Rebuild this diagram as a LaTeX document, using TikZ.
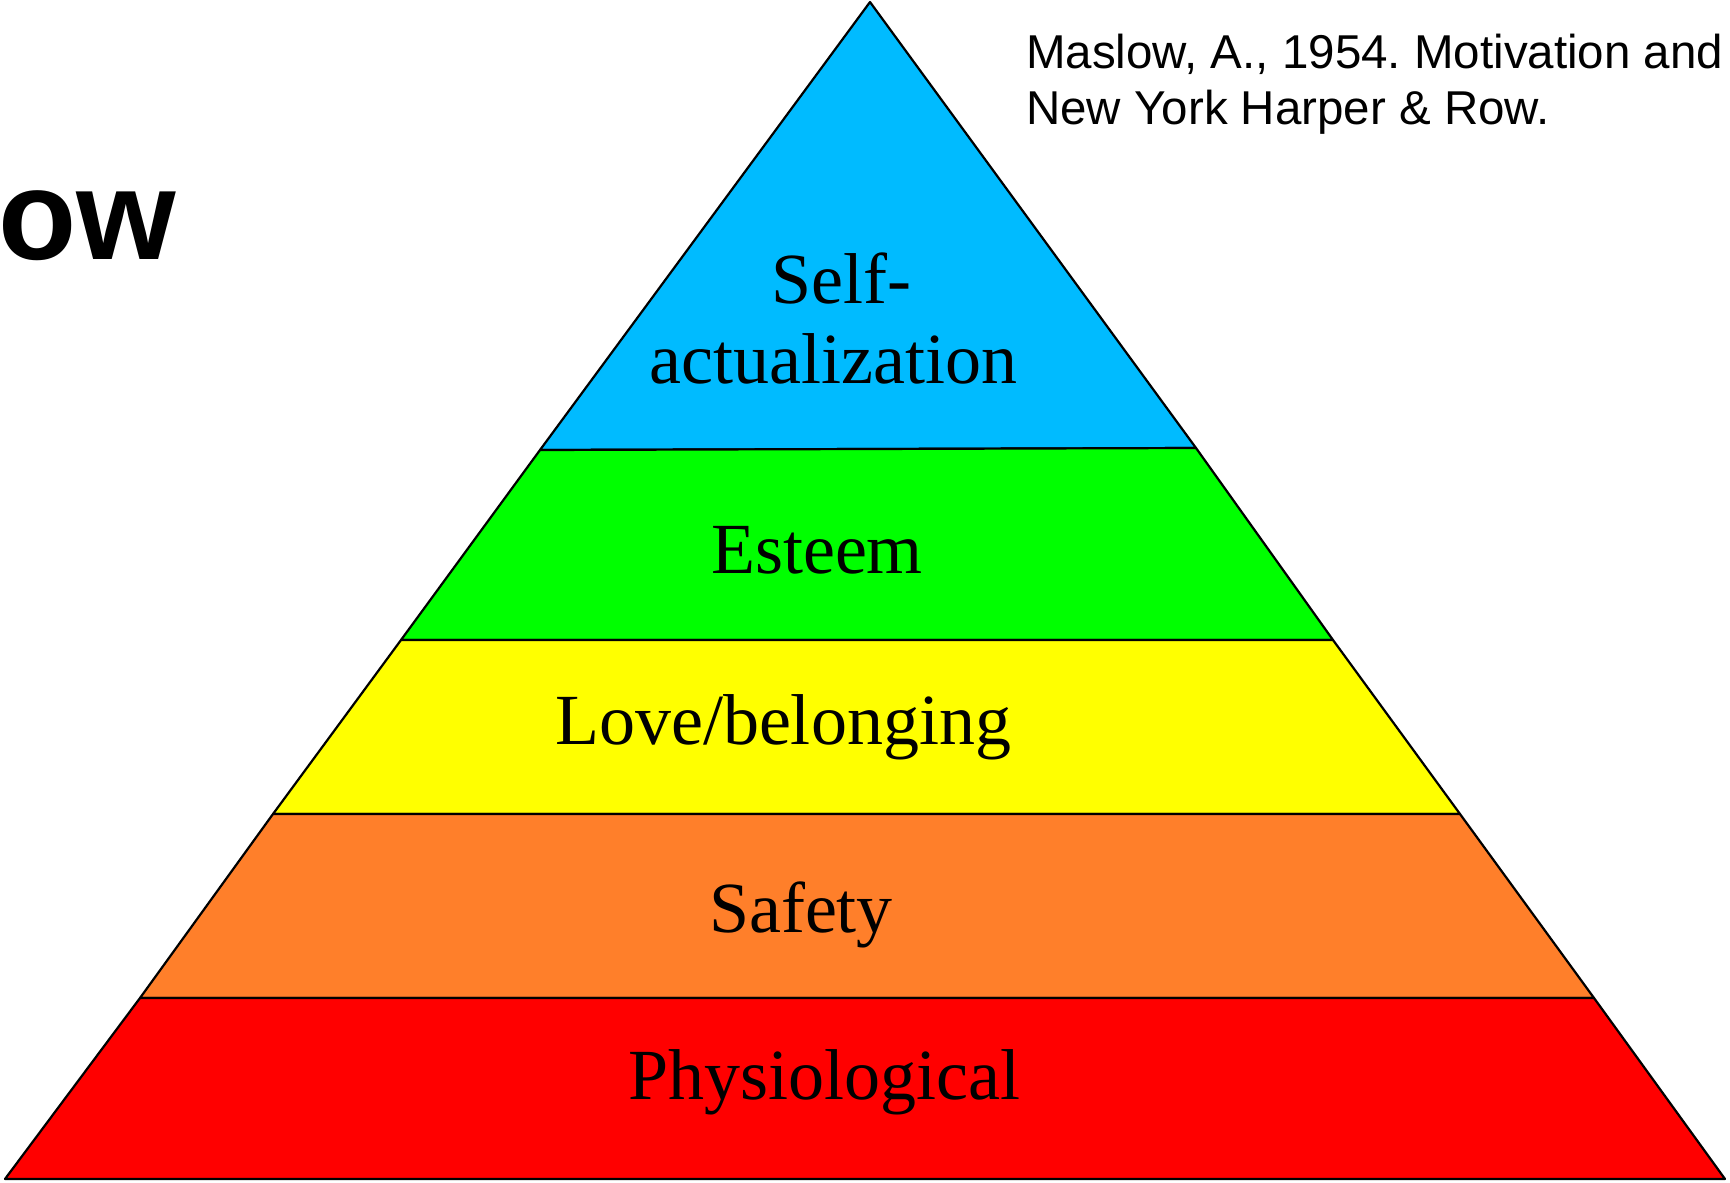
\documentclass[tikz,border=0pt]{standalone}
\usepackage{fontspec}
\setmainfont{Liberation Serif}
\newfontfamily\citefont{Liberation Sans}
\frenchspacing
\definecolor{selfblue}{RGB}{0,187,255}
\definecolor{esteemgreen}{RGB}{0,255,0}
\definecolor{loveyellow}{RGB}{255,255,0}
\definecolor{safeorange}{RGB}{255,127,42}
\definecolor{physred}{RGB}{255,0,0}
\tikzset{
  band/.style={draw=black, line width=2.2pt, line join=round},
  level/.style={inner sep=0pt, anchor=base, font=\fontsize{72}{79}\selectfont},
  cite/.style={inner sep=0pt, anchor=base west, font=\citefont\fontsize{47.5}{56}\selectfont},
}
\begin{document}
\begin{tikzpicture}[x=1pt,y=-1pt]
  \fill[white] (0,0) rectangle (1730,1183);
  \useasboundingbox (0,0) rectangle (1730,1183);

  % corners of the pyramid and its level boundaries
  \coordinate (apex) at (870,2);
  \coordinate (l1) at (540,450);  \coordinate (r1) at (1196,448);
  \coordinate (l2) at (401,640);  \coordinate (r2) at (1333,640);
  \coordinate (l3) at (273,814);  \coordinate (r3) at (1460,814);
  \coordinate (l4) at (140,998);  \coordinate (r4) at (1594,998);
  \coordinate (bl) at (5,1179);   \coordinate (br) at (1725,1179);

  % the five levels, top to bottom
  \draw[band, fill=selfblue]    (apex) -- (r1) -- (l1) -- cycle;
  \draw[band, fill=esteemgreen] (l1) -- (r1) -- (r2) -- (l2) -- cycle;
  \draw[band, fill=loveyellow]  (l2) -- (r2) -- (r3) -- (l3) -- cycle;
  \draw[band, fill=safeorange]  (l3) -- (r3) -- (r4) -- (l4) -- cycle;
  \draw[band, fill=physred]     (l4) -- (r4) -- (br) -- (bl) -- cycle;

  % level labels
  \node[level] (self1) at (841.5,303) {Self-};
  \node[level] (self2) at (833.5,383) {actualization};
  \node[level] (esteem) at (817,573) {Esteem};
  \node[level] (love) at (783,744) {Love/belonging};
  \node[level] (safety) at (801,932) {Safety};
  \node[level] (phys) at (824.5,1099) {Physiological};

  % reference
  \node[cite] (cite1) at (1026,68) {Maslow, A., 1954. Motivation and};
  \node[cite] (cite2) at (1026,124.5) {New York Harper \& Row.};

  % title fragment at the left edge
  \node[inner sep=0pt, anchor=base west, font=\citefont\bfseries\fontsize{128}{140}\selectfont] (title) at (-2,259) {ow};
\end{tikzpicture}
\end{document}
